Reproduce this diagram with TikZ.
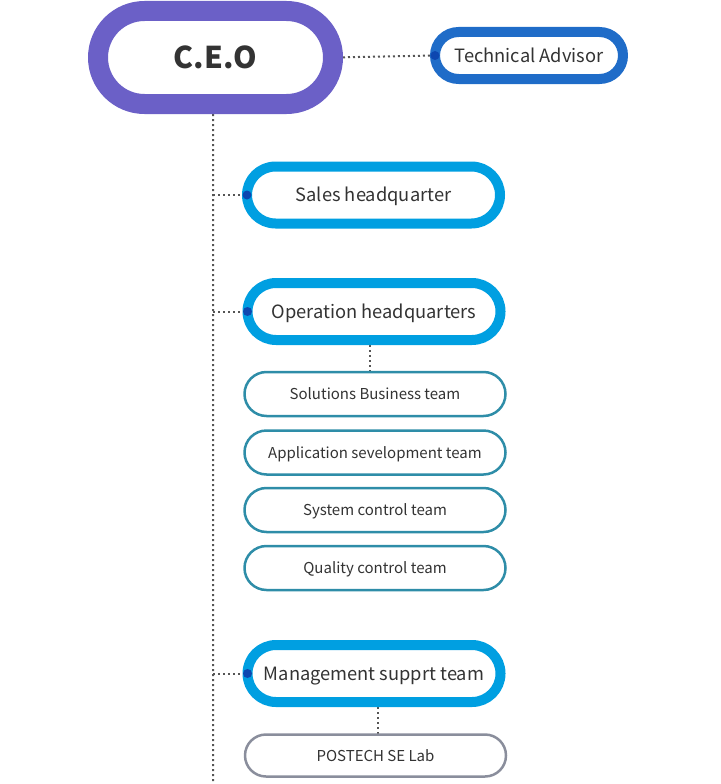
\documentclass[tikz,border=0pt]{standalone}
\usepackage{fontspec}
\setmainfont{Noto Sans CJK KR}
\usetikzlibrary{backgrounds}
\definecolor{ceopurple}{HTML}{6B60C7}
\definecolor{advblue}{HTML}{1F6CC8}
\definecolor{hqblue}{HTML}{009FE1}
\definecolor{dotblue}{HTML}{0D47B0}
\definecolor{teamteal}{HTML}{2E8DA8}
\definecolor{labgray}{HTML}{8A8E9C}
\definecolor{linkgray}{HTML}{555555}
\definecolor{textgray}{HTML}{333333}
\begin{document}
\begin{tikzpicture}[x=1pt,y=-1pt,line join=round,
	pill/.style={draw,fill=white,outer sep=0pt,inner sep=0pt,text=textgray,text depth=0pt},
	ceobox/.style={pill,draw=ceopurple,line width=20pt,minimum width=235pt,minimum height=93pt,rounded corners=46.5pt,text height=22pt,font=\fontsize{30}{30}\selectfont\bfseries},
	hqbox/.style={pill,draw=hqblue,line width=10pt,minimum width=253pt,minimum height=57pt,rounded corners=28.5pt,text height=13.4pt,font=\fontsize{18.3}{18.3}\selectfont},
	advbox/.style={hqbox,draw=advblue,minimum width=188pt,minimum height=47pt,rounded corners=23.5pt},
	teambox/.style={pill,draw=teamteal,line width=2.5pt,minimum width=261pt,minimum height=44pt,rounded corners=22pt,text height=11pt,font=\fontsize{15}{15}\selectfont},
	labbox/.style={teambox,draw=labgray,minimum height=42pt,rounded corners=21pt},
	link/.style={draw=linkgray,line width=2pt,line cap=butt,dash pattern=on 2pt off 3pt}]
	\useasboundingbox (0,0) rectangle (720,784);
	\coordinate (trunk) at (213,784);
	\node[ceobox] (ceo) at (215.5,57.5) {C.E.O};
	\node[advbox] (adv) at (529,55.5) {Technical Advisor};
	\node[hqbox] (sales) at (373.5,195) {Sales headquarter};
	\node[hqbox] (oper) at (374,311.5) {Operation headquarters};
	\node[hqbox] (mgmt) at (374,673.5) {Management supprt team};
	\foreach \p / \y / \t in {sol/394/Solutions Business team,app/452.5/Application sevelopment team,sys/510/System control team,qual/568/Quality control team}
	\node[teambox] (\p) at (375,\y) {\t};
	\node[labbox] (lab) at (375.5,755.5) {POSTECH SE Lab};
	\begin{scope}[on background layer]
		\draw[link] (ceo.south -| trunk)--(trunk) (ceo.east)--(adv.west);
		\draw[link] ([xshift=-4pt]oper.south)--([xshift=-5pt]sol.north);
		\draw[link] ([xshift=4pt]mgmt.south)--([xshift=2.5pt]lab.north);
		\foreach \p in {sales,oper,mgmt}
		\draw[link] (trunk |- \p.west)--(\p.west);
	\end{scope}
	\foreach \p in {adv,sales,oper,mgmt}
	\fill[dotblue] (\p.west) circle (4.5pt);
\end{tikzpicture}
\end{document}
